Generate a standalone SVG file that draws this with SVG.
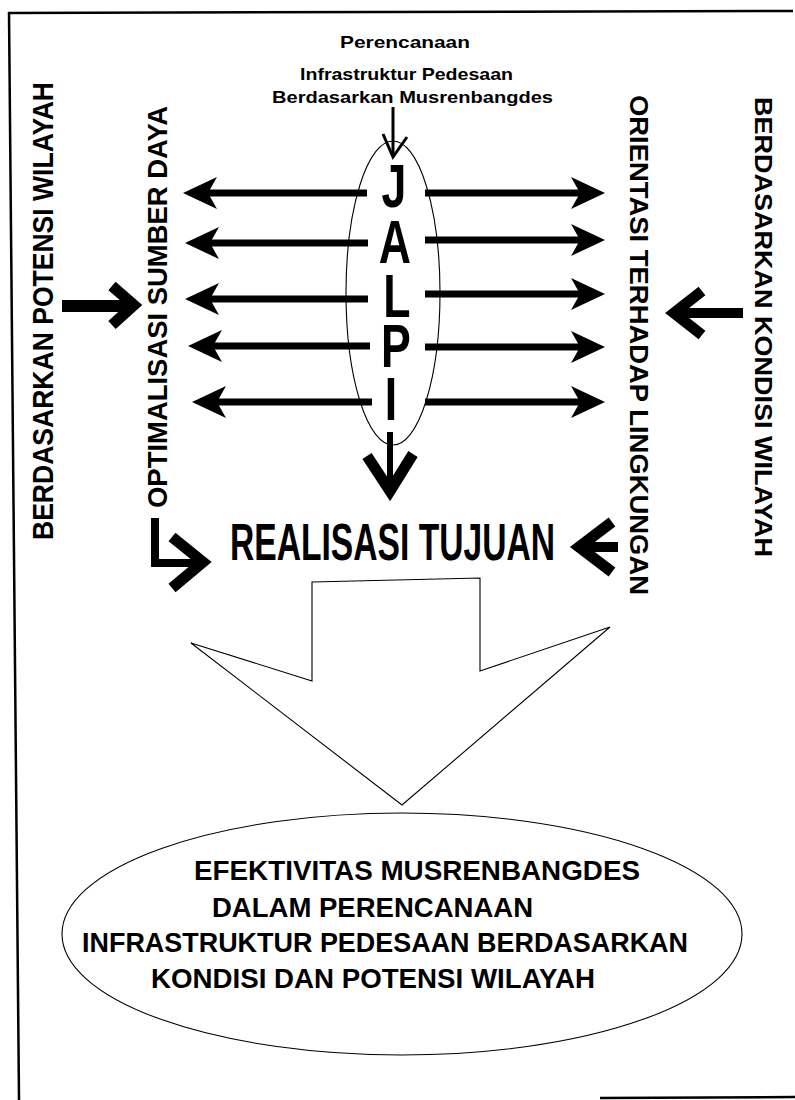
<svg xmlns="http://www.w3.org/2000/svg" width="795" height="1100" viewBox="0 0 795 1100">
<defs>
<style>
.bg{fill:#ffffff}
.frame{stroke:#000;stroke-width:2.5;fill:none}
.thin{stroke:#000;stroke-width:1.1;fill:none}
.block{stroke:#000;stroke-width:1.1;fill:#fff;stroke-linejoin:miter}
.shaft{stroke:#000;stroke-width:7;fill:none}
.bold{stroke:#000;stroke-width:11;fill:none;stroke-linejoin:miter;stroke-miterlimit:10}
.small{stroke:#000;stroke-width:3;fill:none}
.t{font-family:"Liberation Sans",Arial,sans-serif;font-weight:bold;fill:#000}
</style>
<marker id="ah" viewBox="0 0 34 32" refX="9" refY="16" markerWidth="34" markerHeight="32" markerUnits="userSpaceOnUse" orient="auto">
<path d="M0,0 L34,16 L0,32 L9,16 Z" fill="#000"/>
</marker>
</defs>
<rect class="bg" x="0" y="0" width="795" height="1100"/>
<g id="frame">
<line class="frame" x1="8" y1="13" x2="793" y2="11"/>
<line class="frame" x1="9" y1="12" x2="19" y2="1100"/>
<line class="frame" x1="600" y1="1098" x2="795" y2="1097"/>
</g>

<g id="top-label">
<text class="t" x="340" y="48" font-size="17" textLength="130" lengthAdjust="spacingAndGlyphs">Perencanaan</text>
<text class="t" x="300" y="80" font-size="17" textLength="213" lengthAdjust="spacingAndGlyphs">Infrastruktur Pedesaan</text>
<text class="t" x="272" y="103" font-size="17" textLength="281" lengthAdjust="spacingAndGlyphs">Berdasarkan Musrenbangdes</text>
</g>

<g id="jalpi">
<ellipse class="thin" cx="393" cy="293" rx="47" ry="152"/>
<text class="t" font-size="62" text-anchor="middle" transform="scale(0.72,1)"><tspan x="547.2" y="207">J</tspan><tspan x="548.6" y="263">A</tspan><tspan x="551.4" y="317">L</tspan><tspan x="550" y="367">P</tspan><tspan x="543.1" y="420">I</tspan></text>
</g>

<g id="left-outer">
<text class="t" font-size="29" text-anchor="middle" textLength="458" lengthAdjust="spacingAndGlyphs" transform="translate(53,311) rotate(-90)">BERDASARKAN POTENSI WILAYAH</text>
</g>
<g id="left-inner">
<text class="t" font-size="27" text-anchor="middle" textLength="402" lengthAdjust="spacingAndGlyphs" transform="translate(167,307) rotate(-90)">OPTIMALISASI SUMBER DAYA</text>
</g>
<g id="right-inner">
<text class="t" font-size="25" text-anchor="middle" textLength="500" lengthAdjust="spacingAndGlyphs" transform="translate(630,345) rotate(90)">ORIENTASI TERHADAP LINGKUNGAN</text>
</g>
<g id="right-outer">
<text class="t" font-size="24" text-anchor="middle" textLength="460" lengthAdjust="spacingAndGlyphs" transform="translate(755,327) rotate(90)">BERDASARKAN KONDISI WILAYAH</text>
</g>

<g id="realisasi">
<text class="t" x="230" y="560" font-size="52" textLength="325" lengthAdjust="spacingAndGlyphs">REALISASI TUJUAN</text>
</g>

<g id="block-arrow">
<polygon class="block" points="312,582 480,578 480,671 610,627 402,805 191,643 312,681"/>
</g>

<g id="result">
<ellipse class="thin" cx="402" cy="934" rx="340" ry="121"/>
<text class="t" x="194" y="880" font-size="27" textLength="446" lengthAdjust="spacingAndGlyphs">EFEKTIVITAS MUSRENBANGDES</text>
<text class="t" x="212" y="917" font-size="27" textLength="321" lengthAdjust="spacingAndGlyphs">DALAM PERENCANAAN</text>
<text class="t" x="82" y="952" font-size="27" textLength="606" lengthAdjust="spacingAndGlyphs">INFRASTRUKTUR PEDESAAN BERDASARKAN</text>
<text class="t" x="151" y="988" font-size="27" textLength="444" lengthAdjust="spacingAndGlyphs">KONDISI DAN POTENSI WILAYAH</text>
</g>

<g id="connectors">
<!-- small arrow into JALPI -->
<line class="small" x1="393" y1="107" x2="393" y2="156"/>
<polyline class="small" points="383,134 393,157 407,137"/>
<!-- left arrows -->
<line class="shaft" x1="367" y1="193" x2="208" y2="193" marker-end="url(#ah)"/>
<line class="shaft" x1="368" y1="243" x2="210" y2="243" marker-end="url(#ah)"/>
<line class="shaft" x1="368" y1="299" x2="210" y2="299" marker-end="url(#ah)"/>
<line class="shaft" x1="370" y1="346" x2="213" y2="346" marker-end="url(#ah)"/>
<line class="shaft" x1="372" y1="402" x2="217" y2="402" marker-end="url(#ah)"/>
<!-- right arrows -->
<line class="shaft" x1="425" y1="193" x2="580" y2="193" marker-end="url(#ah)"/>
<line class="shaft" x1="425" y1="240" x2="580" y2="240" marker-end="url(#ah)"/>
<line class="shaft" x1="425" y1="294" x2="580" y2="294" marker-end="url(#ah)"/>
<line class="shaft" x1="425" y1="347" x2="580" y2="347" marker-end="url(#ah)"/>
<line class="shaft" x1="425" y1="402" x2="580" y2="402" marker-end="url(#ah)"/>
<!-- down arrow from JALPI -->
<line x1="390" y1="432" x2="390" y2="492" stroke="#000" stroke-width="6"/>
<polyline class="bold" points="367,456 390,491 413,454"/>
<!-- left bold arrow -->
<line x1="62" y1="306" x2="132" y2="306" stroke="#000" stroke-width="12"/>
<polyline class="bold" points="112,286 134,305 112,325"/>
<!-- right bold arrow -->
<line x1="743" y1="313" x2="678" y2="313" stroke="#000" stroke-width="10"/>
<polyline class="bold" points="702,291 674,313 702,335"/>
<!-- bent arrow bottom-left -->
<polyline points="155,518 155,563 195,563" stroke="#000" stroke-width="8" fill="none"/>
<polyline class="bold" points="172,537 203,562 172,588"/>
<!-- bottom-right arrow -->
<line x1="618" y1="547" x2="582" y2="547" stroke="#000" stroke-width="10"/>
<polyline class="bold" points="612,522 579,547 612,572"/>
</g>
</svg>
